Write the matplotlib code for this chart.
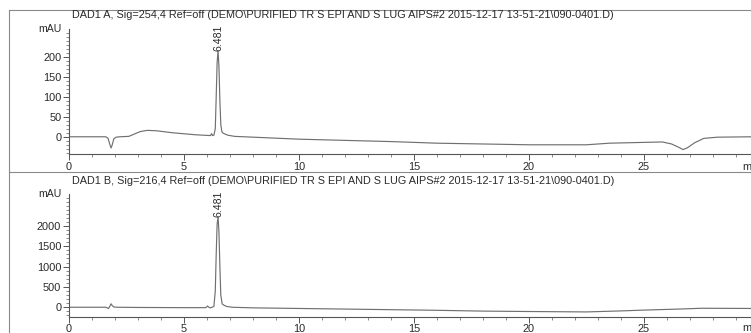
import matplotlib
matplotlib.use("Agg")
import matplotlib.pyplot as plt
from matplotlib.lines import Line2D
from matplotlib.ticker import MultipleLocator

plt.rcParams['font.family'] = ['Liberation Sans', 'DejaVu Sans']

# Signal A (254 nm): retention time (min) and absorbance (mAU)
time_a = [0, 1.60, 1.70, 1.78, 1.83, 1.88, 1.95, 2.05, 2.20, 2.60, 2.85, 3.10, 3.40,
          3.80, 4.50, 5.50, 6.15, 6.20, 6.24, 6.30, 6.36, 6.40, 6.44, 6.481, 6.52,
          6.56, 6.60, 6.65, 6.70, 6.78, 6.90, 7.2, 8.0, 10.0, 12.0, 14.0, 16.0, 18.0,
          20.0, 22.5, 23.5, 25.0, 25.8, 26.2, 26.5, 26.7, 26.9, 27.2, 27.6, 28.2, 29.7]
signal_a = [0, 0, -4, -20, -28, -20, -5, -1, 0, 1, 7, 13, 16,
            15, 10, 5, 3, 8, 3, 4, 20, 100, 185, 215, 175,
            90, 30, 12, 9, 7, 4, 1, -1, -6, -9, -12, -16, -18,
            -20, -20, -16, -14, -13, -18, -26, -32, -27, -15, -4, -1, 0]

# Signal B (216 nm)
time_b = [0, 1.60, 1.72, 1.78, 1.83, 1.88, 1.95, 2.10, 3.0, 5.0, 5.95, 6.02, 6.08,
          6.15, 6.30, 6.36, 6.40, 6.44, 6.481, 6.52, 6.56, 6.60, 6.66, 6.74, 6.85,
          7.1, 8.0, 10.0, 12.0, 14.0, 16.0, 18.0, 20.0, 22.5, 24.0, 25.0, 26.5, 27.5, 29.7]
signal_b = [0, 0, -30, 30, 85, 40, 5, 0, -5, -10, -10, 30, 0,
            -15, 20, 400, 1300, 2050, 2220, 1850, 1000, 300, 80, 50, 20,
            0, -15, -30, -45, -60, -75, -95, -105, -115, -90, -70, -45, -25, -30]

peak_rt = 6.481
peak_label = "6.481"

titles = [
    r"DAD1 A, Sig=254,4 Ref=off (DEMO\PURIFIED TR S EPI AND S LUG AIPS#2 2015-12-17 13-51-21\090-0401.D)",
    r"DAD1 B, Sig=216,4 Ref=off (DEMO\PURIFIED TR S EPI AND S LUG AIPS#2 2015-12-17 13-51-21\090-0401.D)",
]
yticks_a = [0, 50, 100, 150, 200]
yticks_b = [0, 500, 1000, 1500, 2000]

W, H = 751, 333
fig = plt.figure(figsize=(W / 100, H / 100), dpi=100)
fig.patch.set_facecolor("white")

TXT = "#2a2a2a"
LINE = "#707070"
FS = 7.9
x_max = (W - 69) / 23.0


def px_rect(left, top, right, bottom):
    return [left / W, 1 - bottom / H, (right - left) / W, (bottom - top) / H]


def style(ax, yticks, minor_y, ylim, xpad):
    ax.set_xlim(0, x_max)
    ax.set_ylim(*ylim)
    for s in ("top", "right"):
        ax.spines[s].set_visible(False)
    for s in ("left", "bottom"):
        ax.spines[s].set_color("#555555")
        ax.spines[s].set_linewidth(0.8)
    ax.set_yticks(yticks)
    ax.yaxis.set_minor_locator(MultipleLocator(minor_y))
    ax.xaxis.set_major_locator(MultipleLocator(5))
    ax.xaxis.set_minor_locator(MultipleLocator(1))
    ax.tick_params(which="major", direction="out", length=4, width=0.7,
                   color="#555555", labelsize=FS, labelcolor=TXT, pad=1.5)
    ax.tick_params(which="minor", direction="out", length=2, width=0.6, color="#777777")
    ax.tick_params(axis="x", which="major", length=4, pad=xpad)
    ax.tick_params(axis="x", which="minor", length=2.5)
    ax.set_facecolor("none")


panels = [
    dict(rect=px_rect(69, 29, W, 154), t=time_a, y=signal_a, yt=yticks_a, minor=10,
         ylim=(-43, 269), title=titles[0], title_y=15, apex=215, xpad=2, unit_y=-0.105),
    dict(rect=px_rect(69, 194, W, 317), t=time_b, y=signal_b, yt=yticks_b, minor=100,
         ylim=(-240, 2787), title=titles[1], title_y=181, apex=2220, xpad=0.8, unit_y=-0.09),
]

for p in panels:
    ax = fig.add_axes(p["rect"])
    style(ax, p["yt"], p["minor"], p["ylim"], p["xpad"])
    ax.plot(p["t"], p["y"], color=LINE, lw=0.85, solid_joinstyle="round")
    # retention time label above the main peak
    ax.text(peak_rt, p["apex"], peak_label, rotation=90, ha="center", va="bottom",
            fontsize=7.6, color=TXT, clip_on=False)
    # unit label on y axis
    ax.text(-0.011, 1.0, "mAU", transform=ax.transAxes, ha="right", va="center",
            fontsize=FS - 0.3, color=TXT)
    # x-axis unit at the far right
    ax.text((742 - 69) / (W - 69), p["unit_y"], "min", transform=ax.transAxes,
            ha="left", va="center", fontsize=FS, color=TXT, clip_on=False)
    fig.text(72 / W, 1 - p["title_y"] / H, p["title"], ha="left", va="center",
             fontsize=FS - 0.1, color=TXT)

# report frame lines
frame_kw = dict(color="#8a8a8a", lw=0.8, transform=fig.transFigure)
fig.add_artist(Line2D([9 / W, 1], [1 - 10 / H, 1 - 10 / H], **frame_kw))
fig.add_artist(Line2D([9 / W, 9 / W], [1 - 10 / H, 0], **frame_kw))
fig.add_artist(Line2D([9 / W, 1], [1 - 172 / H, 1 - 172 / H], **frame_kw))

fig.savefig("out.png", dpi=100, facecolor="white")
